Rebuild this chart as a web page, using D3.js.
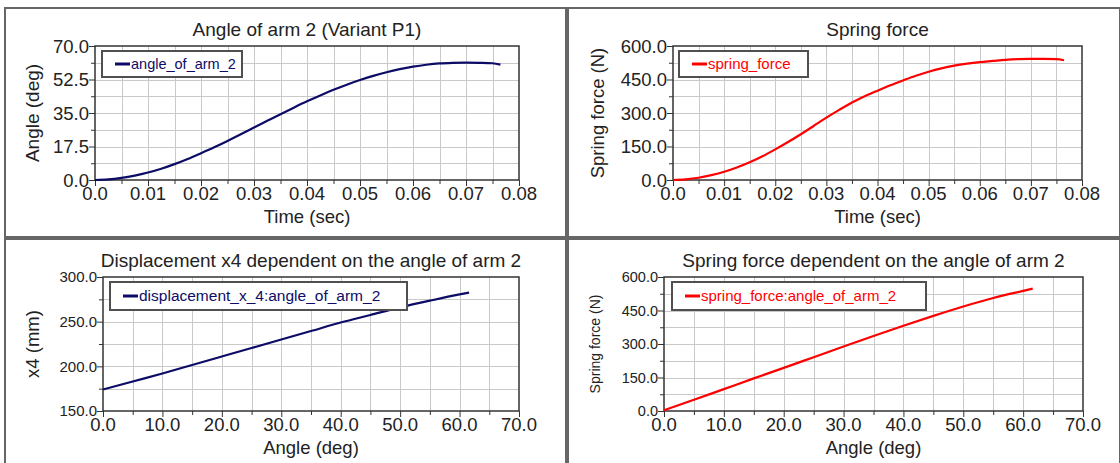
<!DOCTYPE html>
<html><head><meta charset="utf-8">
<script src="https://cdn.jsdelivr.net/npm/d3@7"></script>
<style>body{margin:0;background:#fff}svg{display:block}text{font-family:"Liberation Sans",Arial,sans-serif}</style>
</head><body><svg id="c" width="1120" height="463"></svg>
<script>
// ---- data ----
const timeA = [0,0.0025,0.005,0.0075,0.01,0.0125,0.015,0.0175,0.02,0.0225,0.025,0.0275,0.03,0.0325,0.035,0.0375,0.04,0.0425,0.045,0.0475,0.05,0.0525,0.055,0.0575,0.06,0.0625,0.065,0.0675,0.07,0.0725,0.075,0.0765];
const angleOfArm2 = [0,0.3,1.1,2.3,3.9,5.9,8.3,11.0,14.0,17.1,20.4,23.9,27.4,30.9,34.4,37.8,41.1,44.2,47.1,49.8,52.2,54.4,56.3,57.9,59.2,60.2,60.9,61.2,61.3,61.2,61.0,60.3];
const springForceT = [0,3,10,22,37,56,79,106,137,170,205,242,279,314,347,375,400,424,446,467,485,500,512,521,528,533,538,541,542,542,541,536];
const angleB = [0,5,10,15,20,25,30,35,40,45,50,55,60,61.6];
const displacementX4 = [174,183,192,201.5,211,220.5,230,239.5,249,257.5,266,273.5,280.5,282.5];
const springForceA = [3,50,98,146,193,241,289,336,382,426,468,506,538,548];
const xTicksTime = [0,0.01,0.02,0.03,0.04,0.05,0.06,0.07,0.08];
const xTicksAngle = [0,10,20,30,40,50,60,70];
const yTicksAngle = [0,17.5,35,52.5,70];
const yTicksForce = [0,150,300,450,600];
const yTicksX4 = [150,200,250,300];

const NAVY = "#0c0c66", RED = "#ff0000";
const svg = d3.select("#c");

// panel frames
const frames = [[5,8,561,229],[568,8,552,229],[5,239,561,226],[568,239,552,226]];
frames.forEach(f=>svg.append("rect").attr("x",f[0]).attr("y",f[1]).attr("width",f[2]).attr("height",f[3])
  .attr("fill","#fff").attr("stroke","#666").attr("stroke-width",2));

function panel(o){
  const g = svg.append("g");
  const x = d3.scaleLinear().domain([o.xTicks[0], o.xTicks[o.xTicks.length-1]]).range([o.l,o.r]);
  const y = d3.scaleLinear().domain([o.yTicks[0], o.yTicks[o.yTicks.length-1]]).range([o.b,o.t]);
  const xs = (o.xTicks[1]-o.xTicks[0])/2, ys=(o.yTicks[1]-o.yTicks[0])/2;
  const xMinor = d3.range(0, (o.xTicks.length-1)*2+1).map(i=>o.xTicks[0]+i*xs);
  const yMinor = d3.range(0, (o.yTicks.length-1)*2+1).map(i=>o.yTicks[0]+i*ys);
  // grid
  g.append("g").selectAll("line").data(xMinor.slice(1,-1)).join("line")
    .attr("x1",d=>Math.round(x(d))+0.5).attr("x2",d=>Math.round(x(d))+0.5).attr("y1",o.t).attr("y2",o.b)
    .attr("stroke","#c9c9c9").attr("stroke-width",1);
  g.append("g").selectAll("line").data(yMinor.slice(1,-1)).join("line")
    .attr("y1",d=>Math.round(y(d))+0.5).attr("y2",d=>Math.round(y(d))+0.5).attr("x1",o.l).attr("x2",o.r)
    .attr("stroke","#c9c9c9").attr("stroke-width",1);
  // axes (ticks)
  const xa = g.append("g").attr("transform",`translate(0,${o.b})`)
    .call(d3.axisBottom(x).tickValues(xMinor).tickSize(5).tickFormat(""));
  xa.select(".domain").remove();
  xa.selectAll("line").attr("stroke","#333").attr("y2",(d,i)=>i%2===0?6:4);
  const ya = g.append("g").attr("transform",`translate(${o.l},0)`)
    .call(d3.axisLeft(y).tickValues(yMinor).tickSize(5).tickFormat(""));
  ya.select(".domain").remove();
  ya.selectAll("line").attr("stroke","#333").attr("x2",(d,i)=>i%2===0?-6:-4);
  // tick labels
  g.append("g").selectAll("text").data(o.xTicks).join("text")
    .attr("x",d=>x(d)).attr("y",o.b+20).attr("text-anchor","middle")
    .attr("font-size",o.xFs).attr("fill","#222").text(d=>o.xFmt(d));
  g.append("g").selectAll("text").data(o.yTicks).join("text")
    .attr("x",o.l-6).attr("y",d=>y(d)+o.yFs*0.36)
    .attr("text-anchor","end").attr("font-size",o.yFs).attr("fill","#222").text(d=>d3.format(".1f")(d));
  // frame
  g.append("rect").attr("x",o.l).attr("y",o.t).attr("width",o.r-o.l).attr("height",o.b-o.t)
    .attr("fill","none").attr("stroke","#333").attr("stroke-width",1.5);
  // line
  const pts = o.xs.map((v,i)=>[v,o.ys[i]]);
  g.append("path").datum(pts).attr("fill","none").attr("stroke",o.color).attr("stroke-width",2.2)
    .attr("d",d3.line().x(d=>x(d[0])).y(d=>y(d[1])).curve(d3.curveMonotoneX));
  // legend
  const lg = g.append("g");
  lg.append("rect").attr("x",o.lg[0]).attr("y",o.lg[1]).attr("width",o.lg[2]).attr("height",o.lg[3])
    .attr("fill","#fff").attr("stroke","#505050").attr("stroke-width",2);
  const ly = o.lg[1]+o.lg[3]/2;
  lg.append("line").attr("x1",o.lg[0]+13).attr("x2",o.lg[0]+28).attr("y1",ly).attr("y2",ly)
    .attr("stroke",o.color).attr("stroke-width",3);
  lg.append("text").attr("x",o.lg[0]+29).attr("y",ly+5).attr("font-size",o.lgFs).attr("fill",o.color).text(o.name);
  // titles
  g.append("text").attr("x",(o.l+o.r)/2).attr("y",o.t-10).attr("text-anchor","middle")
    .attr("font-size",19).attr("fill","#222").text(o.title);
  g.append("text").attr("x",(o.l+o.r)/2).attr("y",o.b+43).attr("text-anchor","middle")
    .attr("font-size",18.5).attr("fill","#222").text(o.xTitle);
  g.append("text").attr("transform",`translate(${o.yTx},${(o.t+o.b)/2}) rotate(-90)`).attr("text-anchor","middle")
    .attr("font-size",o.yTFs).attr("fill","#222").text(o.yTitle);
}

const fmtT = d=> d===0 ? "0.0" : d3.format(".2f")(d);
const fmt1 = d3.format(".1f");

panel({l:95,r:519,t:46,b:180,xTicks:xTicksTime,yTicks:yTicksAngle,xs:timeA,ys:angleOfArm2,color:NAVY,
  name:"angle_of_arm_2",title:"Angle of arm 2 (Variant P1)",xTitle:"Time (sec)",yTitle:"Angle (deg)",
  xFmt:fmtT,xFs:18.5,yFs:18.5,yTx:39,yTFs:19,lg:[102,51,140,26],lgFs:14.5});
panel({l:673,r:1082,t:46,b:180,xTicks:xTicksTime,yTicks:yTicksForce,xs:timeA,ys:springForceT,color:RED,
  name:"spring_force",title:"Spring force",xTitle:"Time (sec)",yTitle:"Spring force (N)",
  xFmt:fmtT,xFs:18.5,yFs:18.5,yTx:604,yTFs:18.5,lg:[679,51,129,26],lgFs:15});
panel({l:103,r:519,t:277,b:411,xTicks:xTicksAngle,yTicks:yTicksX4,xs:angleB,ys:displacementX4,color:NAVY,
  name:"displacement_x_4:angle_of_arm_2",title:"Displacement x4 dependent on the angle of arm 2",xTitle:"Angle (deg)",yTitle:"x4 (mm)",
  xFmt:fmt1,xFs:18.5,yFs:15,yTx:39,yTFs:18.5,lg:[110,282,297,28],lgFs:15.5});
panel({l:664,r:1083,t:277,b:411,xTicks:xTicksAngle,yTicks:yTicksForce,xs:angleB,ys:springForceA,color:RED,
  name:"spring_force:angle_of_arm_2",title:"Spring force dependent on the angle of arm 2",xTitle:"Angle (deg)",yTitle:"Spring force (N)",
  xFmt:fmt1,xFs:18.5,yFs:14.5,yTx:600,yTFs:14,lg:[672,282,254,28],lgFs:15});
</script></body></html>
